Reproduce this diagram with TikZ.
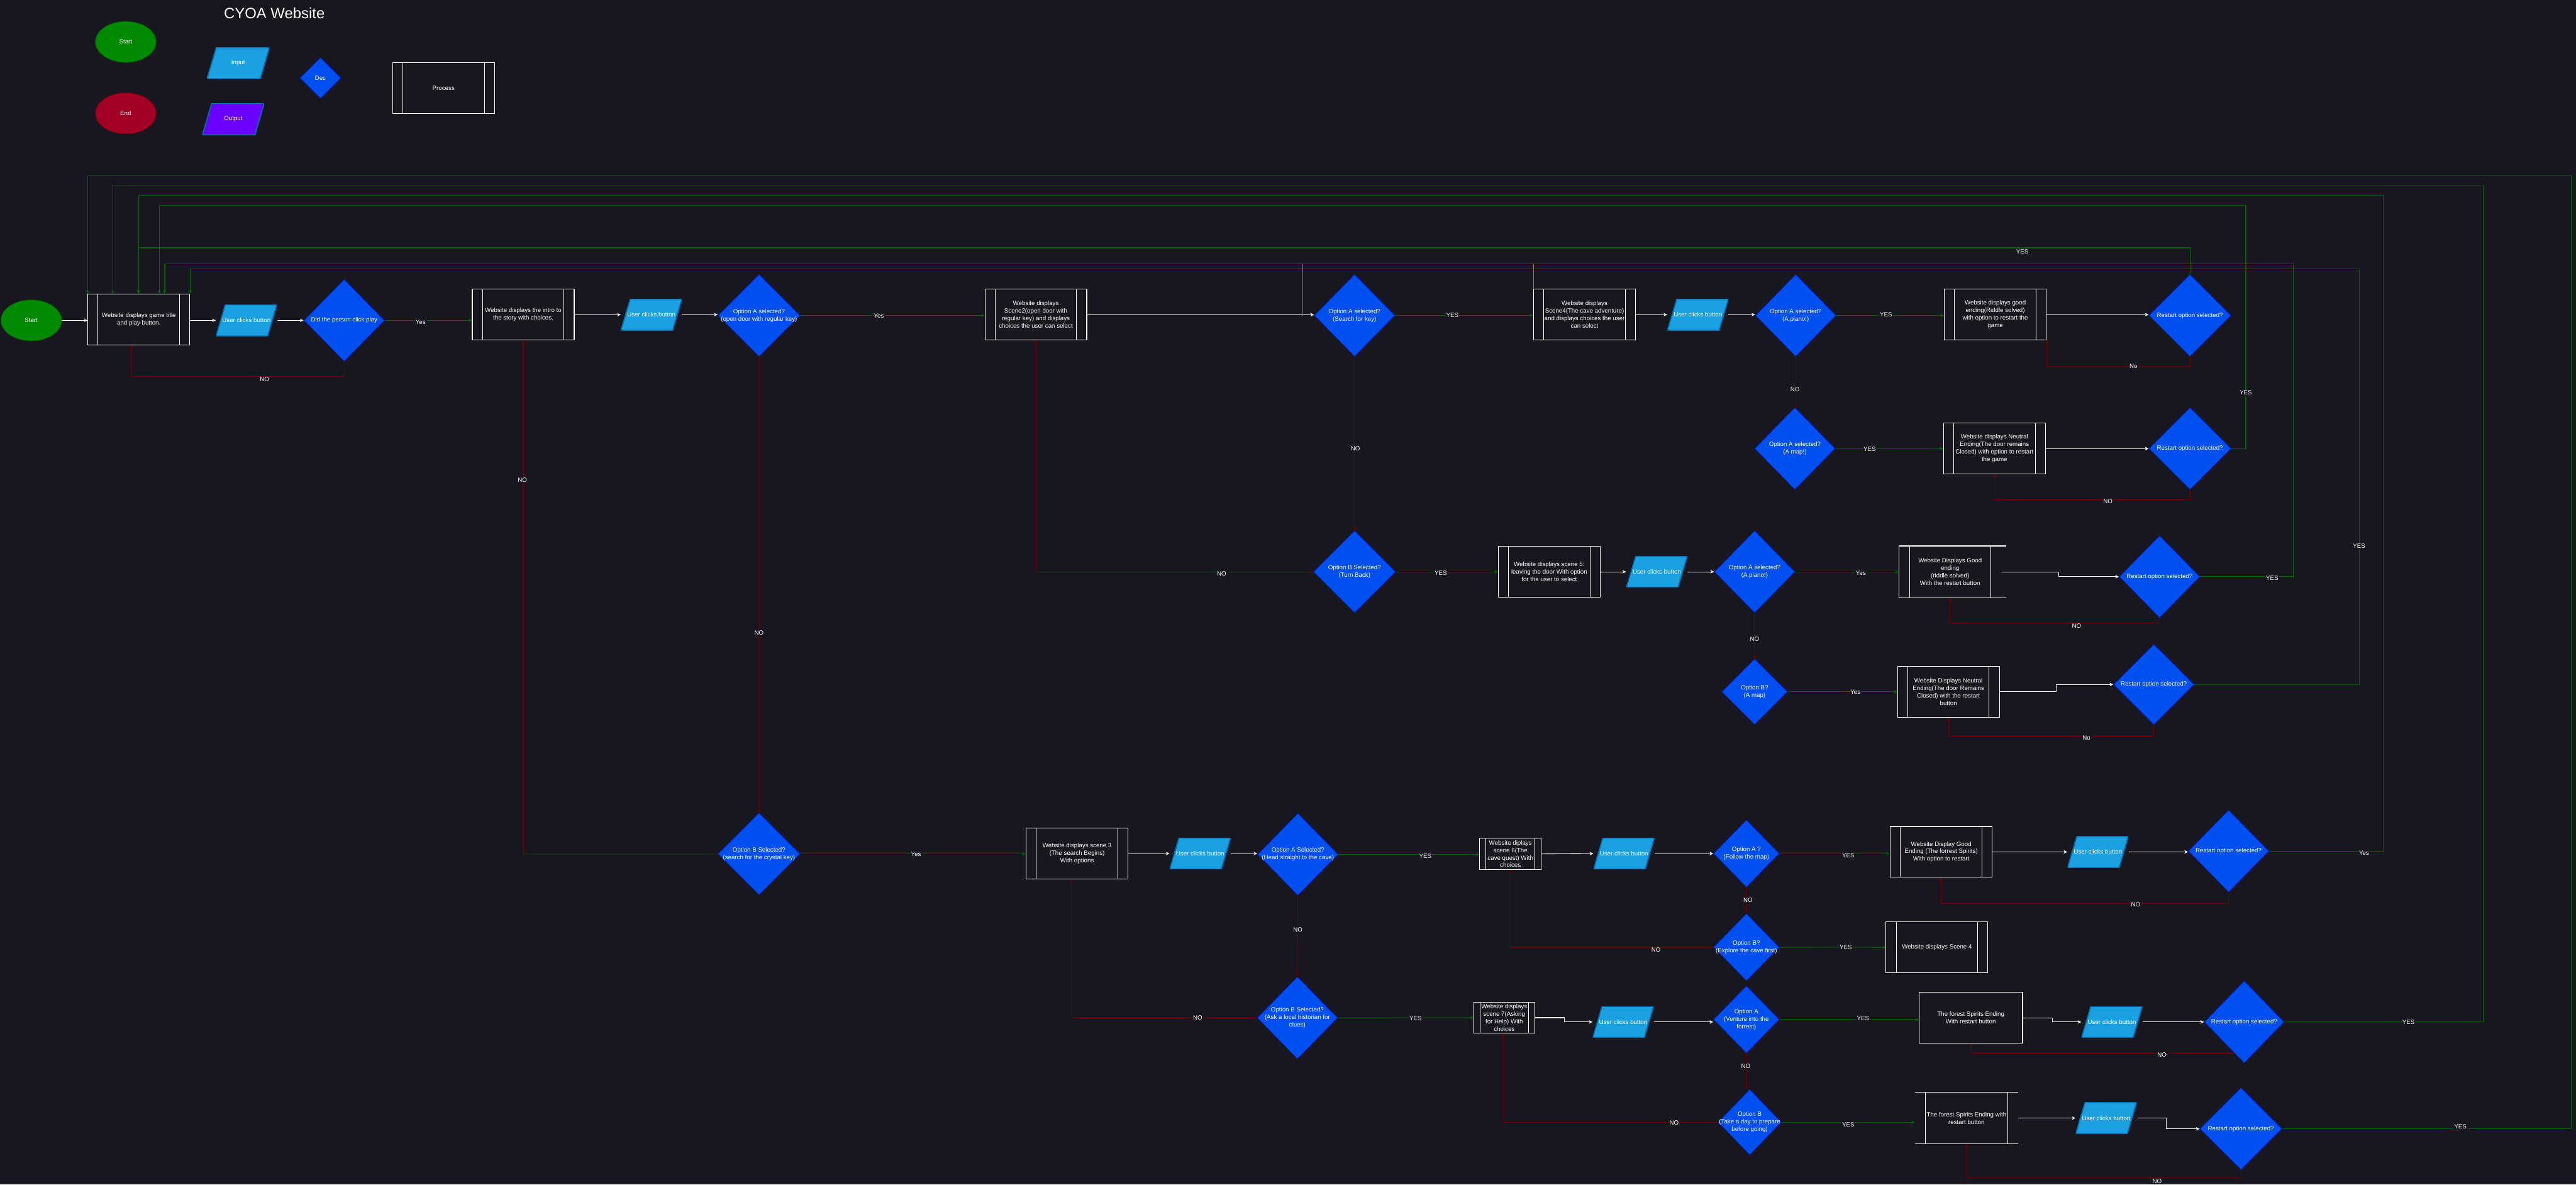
\documentclass[tikz,border=0pt]{standalone}
\usepackage{fontspec}
\setmainfont{Liberation Sans}
\usetikzlibrary{shapes.geometric,arrows.meta,calc,backgrounds}
\definecolor{bg}{RGB}{24,22,31}
\definecolor{decfill}{RGB}{0,80,239}
\definecolor{decdraw}{RGB}{0,29,188}
\definecolor{infill}{RGB}{27,161,226}
\definecolor{indraw}{RGB}{0,110,175}
\definecolor{outfill}{RGB}{106,0,255}
\definecolor{outdraw}{RGB}{55,0,204}
\definecolor{startfill}{RGB}{0,138,0}
\definecolor{startdraw}{RGB}{0,87,0}
\definecolor{endfill}{RGB}{162,0,37}
\definecolor{enddraw}{RGB}{111,0,0}
\definecolor{gline}{RGB}{0,100,0}
\definecolor{rline}{RGB}{111,0,0}
\tikzset{
 txt/.style={font=\fontsize{5.3}{6.5}\selectfont, text=white, align=center},
 procbox/.style={rectangle, draw=white, line width=0.6pt, fill=bg, txt, inner sep=0pt,
   minimum width=62*0.05cm, minimum height=31*0.05cm,
   path picture={\draw[white, line width=0.5pt]
     ($(path picture bounding box.north west)!0.1!(path picture bounding box.north east)$) --
     ($(path picture bounding box.south west)!0.1!(path picture bounding box.south east)$)
     ($(path picture bounding box.north east)!0.1!(path picture bounding box.north west)$) --
     ($(path picture bounding box.south east)!0.1!(path picture bounding box.south west)$);}},
 plainbox/.style={rectangle, draw=white, line width=0.6pt, fill=bg, txt, inner sep=0pt,
   minimum width=62*0.05cm, minimum height=31*0.05cm},
 smallproc/.style={procbox, minimum width=37.5*0.05cm, minimum height=19*0.05cm},
 dec/.style={diamond, fill=decfill, draw=decdraw, line width=0.5pt, inner sep=0pt,
   minimum width=49*0.05cm, minimum height=50*0.05cm},
 decs/.style={dec, minimum width=40*0.05cm, minimum height=41*0.05cm},
 para/.style={rectangle, inner sep=0pt, minimum width=37*0.05cm, minimum height=19*0.05cm, txt,
   path picture={\filldraw[fill=#1, draw=indraw, line width=1pt]
     (path picture bounding box.south west) -- ([xshift=-0.28cm]path picture bounding box.south east) --
     (path picture bounding box.north east) -- ([xshift=0.28cm]path picture bounding box.north west) -- cycle;}},
 inbox/.style={para=infill},
 term/.style={ellipse, inner sep=0pt, minimum width=37*0.05cm, minimum height=25*0.05cm, txt, line width=0.5pt},
 wa/.style={draw=white, line width=0.6pt, -{Stealth[length=3.2pt,width=3pt]}},
 ga/.style={draw=gline, line width=0.6pt, -{Stealth[length=3.2pt,width=3pt]}},
 ra/.style={draw=rline, line width=0.6pt, -{Stealth[length=3.2pt,width=3pt]}},
 lbl/.style={txt, fill=bg, inner sep=0.5pt},
 edge line/.style={white, line width=0.6pt},
}
\begin{document}
\begin{tikzpicture}[x=0.05cm, y=-0.05cm]
\useasboundingbox (0,0) rectangle (1568,721);
% legend
\node[txt, font=\fontsize{13}{15}\selectfont] (title) at (167,8) {CYOA Website};
\node[term, fill=startfill, draw=startdraw] (lstart) at (76.5,25.5) {Start};
\node[term, fill=endfill, draw=enddraw] (lend) at (76.5,69) {End};
\node[inbox, minimum width=38*0.05cm] (lin) at (145,38.5) {Input};
\node[para=outfill, minimum width=37.5*0.05cm] (lout) at (142,72.5) {Output};
\node[dec, minimum width=25*0.05cm, minimum height=25*0.05cm, label={[txt]center:Dec}] (ldec) at (195,47.5) {};
\node[procbox] (lproc) at (270,53.5) {Process};
% row 1
\node[term, fill=startfill, draw=startdraw] (start) at (19,195) {Start};
\node[procbox] (box1) at (84.5,194.5) {Website displays game title\\and play button.};
\node[inbox] (in1) at (150,195) {User clicks button};
\node[dec, label={[txt]center:{Did the person click play}}] (d1) at (209.5,195) {};
\node[procbox] (box2) at (318.5,191.5) {Website displays the intro to\\the story with choices.};
\node[inbox] (in2) at (396.5,191.5) {User clicks button};
\node[dec, minimum width=50*0.05cm, label={[txt]center:{Option A selected?\\(open door with regular key)}}] (d2) at (462,192) {};
\node[procbox] (box3) at (630.5,191.5) {Website displays\\Scene2(open door with\\regular key) and displays\\choices the user can select};
\node[dec, label={[txt]center:{Option A selected?\\(Search for key)}}] (d3) at (824.5,192) {};
\node[procbox] (box4) at (964.5,191.5) {Website displays\\Scene4(The cave adventure)\\and displays choices the user\\can select};
\node[inbox] (in3) at (1033.5,191.5) {User clicks button};
\node[dec, label={[txt]center:{Option A selected?\\(A piano!)}}] (d4) at (1093,192) {};
\node[procbox] (box5) at (1214.5,191.5) {Website displays good\\ending(Riddle solved)\\with option to restart the\\game};
\node[dec, minimum width=50*0.05cm, label={[txt]center:{Restart option selected?}}] (r1) at (1333,192) {};
% row 2
\node[dec, label={[txt]center:{Option A selected?\\(A map!)}}] (d5) at (1092.5,273) {};
\node[procbox] (box6) at (1214,273) {Website displays Neutral\\Ending(The door remains\\Closed) with option to restart\\the game};
\node[dec, minimum width=50*0.05cm, label={[txt]center:{Restart option selected?}}] (r2) at (1333,273) {};
% row 3
\node[dec, minimum width=50*0.05cm, label={[txt]center:{Option B Selected?\\(Turn Back)}}] (d6) at (824.5,348) {};
\node[procbox] (box7) at (943,348) {Website displays scene 5:\\leaving the door With option\\for the user to select};
\node[inbox] (in4) at (1008.5,348) {User clicks button};
\node[dec, label={[txt]center:{Option A selected?\\(A piano!)}}] (d7) at (1068,348) {};
\node[procbox, draw=none] (box8) at (1187,348) {Website Displays Good\\ending\\(riddle solved)\\With the restart button};
\node[dec, label={[txt]center:{Restart option selected?}}] (r3) at (1314.5,351) {};
% row 4
\node[decs, minimum height=40*0.05cm, label={[txt]center:{Option B?\\(A map)}}] (d8) at (1068,421) {};
\node[procbox] (box9) at (1186,421) {Website Displays Neutral\\Ending(The door Remains\\Closed) with the restart\\button};
\node[dec, minimum height=49*0.05cm, label={[txt]center:{Restart option selected?}}] (r4) at (1311,416.6) {};
% row 5
\node[dec, minimum width=50*0.05cm, label={[txt]center:{Option B Selected?\\(search for the crystal key)}}] (d9) at (462,519.7) {};
\node[procbox] (box10) at (655.6,519.5) {Website displays scene 3\\(The search Begins)\\With options};
\node[inbox] (in5) at (730.5,519.5) {User clicks button};
\node[dec, label={[txt]center:{Option A Selected?\\(Head straight to the cave)}}] (d10) at (790,520) {};
\node[smallproc] (box11) at (919.4,519.7) {Website diplays\\scene 6(The\\cave quest) With\\choices};
\node[inbox] (in6) at (988.5,519.5) {User clicks button};
\node[decs, label={[txt]center:{Option A ?\\(Follow the map)}}] (d11) at (1063,519.5) {};
\node[procbox] (box12) at (1181.6,518.5) {Website Display Good\\Ending (The forrest Spirits)\\With option to restart};
\node[inbox] (in7) at (1277,518.5) {User clicks button};
\node[dec, label={[txt]center:{Restart option selected?}}] (r5) at (1356.5,518) {};
% row 6
\node[decs, label={[txt]center:{Option B?\\(Explore the cave first)}}] (d12) at (1063,576.5) {};
\node[procbox] (box13) at (1179,576.6) {Website displays Scene 4};
% row 7
\node[dec, label={[txt]center:{Option B Selected?\\(Ask a local historian for\\clues)}}] (d13) at (789.7,619.5) {};
\node[smallproc, minimum width=37*0.05cm] (box14) at (915.6,619.4) {Website displays\\scene 7(Asking\\for Help) With\\choices};
\node[inbox] (in8) at (988,622) {User clicks button};
\node[decs, label={[txt]center:{Option A\\(Venture into the\\forrest)}}] (d14) at (1063,620.5) {};
\node[plainbox, minimum width=63*0.05cm] (box15) at (1199.6,619.5) {The forest Spirits Ending\\With restart button};
\node[inbox] (in9) at (1285.5,622) {User clicks button};
\node[dec, minimum width=48.5*0.05cm, label={[txt]center:{Restart option selected?}}] (r6) at (1366,622) {};
% row 8
\node[decs, minimum width=38.5*0.05cm, minimum height=40*0.05cm, label={[txt]center:{Option B\\(Take a day to prepare\\before going)}}] (d15) at (1065,683) {};
\node[procbox, draw=none, minimum width=62.5*0.05cm] (box16) at (1197,680.5) {The forest Spirits Ending with\\restart button};
\node[inbox] (in10) at (1282,680.5) {User clicks button};
\node[dec, minimum width=50*0.05cm, label={[txt]center:{Restart option selected?}}] (r7) at (1364,687) {};
% partial borders seen in the reference
\draw[edge line] ($(box8.north east)+(3,0)$) -- (box8.north west) -- (box8.south west) -- ($(box8.south east)+(3,0)$);
\draw[edge line] (box16.north west) -- (box16.north east) (box16.south west) -- (box16.south east);

\begin{scope}[on background layer]
\fill[bg] (0,0) rectangle (1568,721);
% row 1
\draw[wa] (start.east) -- (start.east -| box1.west);
\draw[wa] (box1.east |- in1.west) -- (in1.west);
\draw[wa] (in1.east) -- (d1.west);
\draw[ga] (d1.east) -- (d1.east -| box2.west);
\draw[ra] (d1.south) -- ++(0,9) -| ($(box1.south)+(-4.5,0)$);
\draw[wa] (box2.east) -- (in2.west);
\draw[wa] (in2.east) -- (in2.east -| d2.west);
\draw[ga] (d2.east) -- (d2.east -| box3.west);
\draw[wa] (box3.east) -- (box3.east -| d3.west);
\draw[ga] (d3.east) -- (d3.east -| box4.west);
\draw[wa] (box4.east) -- (in3.west);
\draw[wa] (in3.east) -- (in3.east -| d4.west);
\draw[ga] (d4.east) -- (d4.east -| box5.west);
\draw[wa] (box5.east) -- (box5.east -| r1.west);
\draw[ra] (r1.south) -- ++(0,6) -| (box5.south east);
\draw[ga] (r1.north) -- ++(0,-16) -| (box1.north);
% row 2
\draw[ra] (d4.south) -- (d4.south |- d5.north);
\draw[ga] (d5.east) -- (box6.west);
\draw[wa] (box6.east) -- (r2.west);
\draw[ra] (r2.south) -- ++(0,6) -| (box6.south);
\draw[ga] (r2.east) -| (1367,125) -| ($(box1.north west)+(43.7,0)$);
% row 3
\draw[ra] (d2.south) -- (d9.north);
\draw[ra] (d3.south) -- (d6.north);
\draw[ra] (d6.west) -| (box3.south);
\draw[ga] (d6.east) -- (box7.west);
\draw[wa] (box7.east) -- (in4.west);
\draw[wa] (in4.east) -- (d7.west);
\draw[ga] (d7.east) -- (box8.west);
\draw[wa] (box8.east) -- ++(35,0) |- (r3.west);
\draw[ra] (r3.south) -- ++(0,3) -| (box8.south);
\draw[ga] (r3.east) -| (1396,160.5) -| ($(box1.north west)+(47,0)$);
% row 4
\draw[ra] (d7.south) -- (d8.north);
\draw[ga] (d8.east) -- (box9.west);
\draw[wa] (box9.east) -- ++(34.5,0) |- (r4.west);
\draw[ra] (r4.south) -- ++(0,6.7) -| (box9.south);
\draw[ga] (r4.east) -| (1436,163.6) -| (box1.north east);
% row 5
\draw[ra] (d9.west) -| (box2.south);
\draw[ga] (d9.east) -- (d9.east -| box10.west);
\draw[wa] (box10.east) -- (in5.west);
\draw[wa] (in5.east) -- (in5.east -| d10.west);
\draw[ga] (d10.east) -- (d10.east -| box11.west);
\draw[wa] (box11.east) -- (in6.west);
\draw[wa] (in6.east) -- (d11.west);
\draw[ga] (d11.east) -- (d11.east -| box12.west);
\draw[wa] (box12.east) -- (in7.west);
\draw[wa] (in7.east) -- (in7.east -| r5.west);
\draw[ga] (r5.east) -| (1450.6,119) -| ($(box1.north)+(-0.2,0)$);
\draw[ra] (r5.south) -- ++(0,6.6) -| (box12.south);
% row 6
\draw[ra] (d11.south) -- (d12.north);
\draw[ra] (d12.west) -| (box11.south);
\draw[ga] (d12.east) -- (box13.west);
% row 7
\draw[ra] (d10.south) -- (d13.north);
\draw[ra] (d13.west) -| ($(box10.south)+(-3.6,0)$);
\draw[ga] (d13.east) -- (box14.west);
\draw[wa] (box14.east) -- ++(18,0) |- (in8.west);
\draw[wa] (in8.east) -- (in8.east -| d14.west);
\draw[ga] (d14.east) -- (d14.east -| box15.west);
\draw[wa] (box15.east) -- ++(18,0) |- (in9.west);
\draw[wa] (in9.east) -- (r6.west);
\draw[ga] (r6.east) -| (1511.6,113) -| ($(box1.north west)+(15.4,0)$);
\draw[ra] ($(r6.south)+(0,-6)$) -| (box15.south);
% row 8
\draw[ra] (d14.south) -- (d14.south |- d15.north);
\draw[ra] (d15.west) -| ($(box14.south)+(-0.6,0)$);
\draw[ga] (d15.east) -- (d15.east -| box16.west);
\draw[wa] (box16.east) -- (in10.west);
\draw[wa] (in10.east) -- ++(18,0) |- (r7.west);
\draw[ga] (r7.east) -| (1565,107) -| (box1.north west);
\draw[ra] (r7.south) -- ++(0,4.7) -| (box16.south);
% thin joins
\draw[gray, line width=0.3pt] ($(d3.west)+(-7,0)$) -- ++(0,-31.5);
\draw[gray, line width=0.3pt] (box4.north west) -- ++(0,-15.5);
\end{scope}
% labels
\node[lbl] (l1) at (161,231) {NO};
\node[lbl] (l2) at (256,196) {Yes};
\node[lbl] (l3) at (535,192.3) {Yes};
\node[lbl] (l4) at (884,192) {YES};
\node[lbl] (l5) at (1148,191.6) {YES};
\node[lbl] (l6) at (1298.6,223) {No};
\node[lbl] (l7) at (1231,153) {YES};
\node[lbl] (l8) at (1092.6,237) {NO};
\node[lbl] (l9) at (1138,273.5) {YES};
\node[lbl] (l10) at (1283,305) {NO};
\node[lbl] (l11) at (1367,239) {YES};
\node[lbl] (l12) at (318,292) {NO};
\node[lbl] (l13) at (462,385) {NO};
\node[lbl] (l14) at (825,273) {NO};
\node[lbl] (l15) at (743.6,349) {NO};
\node[lbl] (l16) at (877,348.7) {YES};
\node[lbl] (l17) at (1132.7,349) {Yes};
\node[lbl] (l18) at (1264,381) {NO};
\node[lbl] (l19) at (1383,352) {YES};
\node[lbl] (l20) at (1068,389) {NO};
\node[lbl] (l21) at (1129.4,421) {Yes};
\node[lbl] (l22) at (1270,449) {No};
\node[lbl] (l23) at (1436,332.5) {YES};
\node[lbl] (l24) at (557.6,520) {Yes};
\node[lbl] (l25) at (867.6,521) {YES};
\node[lbl] (l26) at (1125,520.8) {YES};
\node[lbl] (l27) at (1439,519) {Yes};
\node[lbl] (l28) at (1300,550.5) {NO};
\node[lbl] (l29) at (1064,548) {NO};
\node[lbl] (l30) at (1008,578) {NO};
\node[lbl] (l31) at (1123.5,576.6) {YES};
\node[lbl] (l32) at (790,566) {NO};
\node[lbl] (l33) at (729,619.6) {NO};
\node[lbl] (l34) at (861.6,620) {YES};
\node[lbl] (l35) at (1134,620) {YES};
\node[lbl] (l36) at (1466,622) {YES};
\node[lbl] (l37) at (1316,642) {NO};
\node[lbl] (l38) at (1062.6,649) {NO};
\node[lbl] (l39) at (1019,683.5) {NO};
\node[lbl] (l40) at (1125,684.6) {YES};
\node[lbl] (l41) at (1497.6,685.7) {YES};
\node[lbl] (l42) at (1313,719) {NO};
\end{tikzpicture}
\end{document}
